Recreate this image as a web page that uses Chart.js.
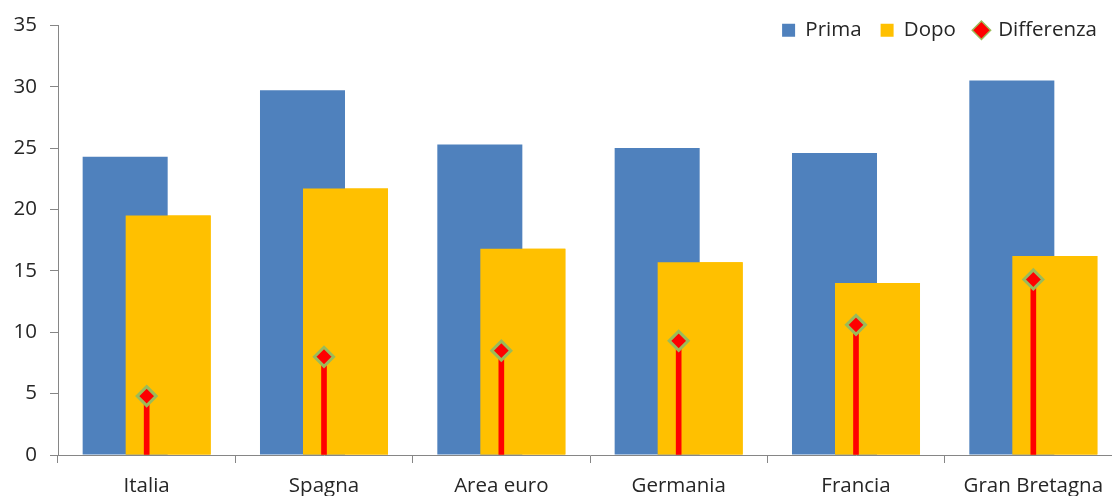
<!DOCTYPE html>
<html>
<head>
<meta charset="utf-8">
<title>Prima / Dopo / Differenza</title>
<script src="https://cdn.jsdelivr.net/npm/chart.js@4/dist/chart.umd.min.js"></script>
<style>
    html, body { margin: 0; padding: 0; background: #fff; overflow: hidden; }
    #wrap { position: relative; width: 1122px; height: 496px; }
</style>
</head>
<body>
<div id="wrap"><canvas id="_dm-barChart"></canvas></div>
<script>

// Chart data
// ----------------------------------------------
const categories  = [ "Italia", "Spagna", "Area euro", "Germania", "Francia", "Gran Bretagna" ];
const primaData   = [ 24.3, 29.7, 25.3, 25.0, 24.6, 30.5 ];
const dopoData    = [ 19.5, 21.7, 16.8, 15.7, 14.0, 16.2 ];
const diffData    = [ 4.8, 8.0, 8.5, 9.3, 10.6, 14.3 ];
const yTickValues = [ 0, 5, 10, 15, 20, 25, 30, 35 ];



// Colors
// ----------------------------------------------
const blueColor   = "#4F81BD";
const yellowColor = "#FFC000";
const redColor    = "#FF0000";
const greenColor  = "#9BBB59";
const axisColor   = "#868686";
const textColor   = "#262626";



// Excel style layering: Dopo sits over Prima, so paint it again after Prima.
// The legend floats over the plot, so it only reserves a thin strip.
// ----------------------------------------------
const barLayering = {
    id: "barLayering",
    beforeInit( chart ) {
        const origFit = chart.legend.fit;
        chart.legend.fit = function () {
            origFit.bind( chart.legend )();
            this.height = 24;
        };
    },
    afterLayout( chart ) {
        const lg = chart.legend;
        lg.top    = 1;
        lg.bottom = 64;
        lg.height = 63;
        lg.right  = 1116;
        lg.width  = lg.right - lg.left;
    },
    afterDatasetDraw( chart, args ) {
        if ( args.index === 0 ) chart.getDatasetMeta( 1 ).controller.draw();
    }
};



document.addEventListener( "DOMContentLoaded", () => {

    Chart.defaults.font.family = "'Open Sans'";
    Chart.defaults.font.size   = 20.5;
    Chart.defaults.color       = textColor;

    const barChart = new Chart(
        document.getElementById( "_dm-barChart" ), {
            type: "bar",
            data: {
                labels: categories,
                datasets: [
                    {
                        label: "Prima",
                        data: primaData,
                        backgroundColor: blueColor,
                        categoryPercentage: 0.485,
                        barPercentage: 1.977,
                        order: 2
                    },
                    {
                        label: "Dopo",
                        data: dopoData,
                        backgroundColor: yellowColor,
                        categoryPercentage: 0.485,
                        barPercentage: 1.977,
                        order: 3
                    },
                    {
                        // red stem under each diamond
                        label: "stem",
                        data: diffData,
                        backgroundColor: redColor,
                        grouped: false,
                        barThickness: 5,
                        order: 1
                    },
                    {
                        type: "line",
                        label: "Differenza",
                        data: diffData,
                        showLine: false,
                        pointStyle: "rectRot",
                        pointRadius: 9.5,
                        pointHoverRadius: 9.5,
                        pointBorderWidth: 3,
                        pointBackgroundColor: redColor,
                        pointBorderColor: greenColor,
                        backgroundColor: redColor,
                        borderColor: greenColor,
                        order: 0
                    }
                ]
            },
            options: {
                responsive: true,
                maintainAspectRatio: false,
                animation: false,
                layout: {
                    autoPadding: false,
                    padding: { top: 0, right: 0, bottom: 0, left: 0 }
                },
                plugins: {
                    tooltip: { enabled: false },
                    legend: {
                        display: true,
                        position: "top",
                        align: "end",
                        labels: {
                            usePointStyle: true,
                            boxWidth: 13,
                            boxHeight: 13,
                            padding: 19,
                            color: textColor,
                            font: { size: 20.5 },
                            filter: ( item ) => item.datasetIndex !== 2,
                            sort: ( a, b ) => a.datasetIndex - b.datasetIndex,
                            generateLabels: ( chart ) => {
                                const items = Chart.defaults.plugins.legend.labels.generateLabels( chart );
                                items.forEach( ( item ) => {
                                    if ( item.datasetIndex === 3 ) {
                                        item.pointStyle = "rectRot";
                                        item.lineWidth  = 1.5;
                                    } else {
                                        item.pointStyle = "rect";
                                        item.lineWidth  = 0;
                                    }
                                });
                                return items;
                            }
                        }
                    }
                },
                scales: {
                    x: {
                        offset: true,
                        afterFit: ( scale ) => { scale.height = 41; },
                        border: { display: true, color: axisColor, width: 1 },
                        grid: {
                            offset: true,
                            drawOnChartArea: false,
                            drawTicks: true,
                            tickLength: 8,
                            color: axisColor
                        },
                        ticks: {
                            padding: 11,
                            maxRotation: 0,
                            minRotation: 0,
                            autoSkip: false,
                            color: textColor
                        }
                    },
                    y: {
                        min: yTickValues[0],
                        max: yTickValues[ yTickValues.length - 1 ],
                        afterFit: ( scale ) => { scale.width = 58; },
                        afterBuildTicks: ( scale ) => {
                            scale.ticks = yTickValues.map( ( v ) => ({ value: v }) );
                        },
                        border: { display: true, color: axisColor, width: 1 },
                        grid: {
                            drawOnChartArea: false,
                            drawTicks: true,
                            tickLength: 8,
                            color: axisColor
                        },
                        ticks: {
                            padding: 13,
                            color: textColor
                        }
                    }
                }
            },
            plugins: [ barLayering ]
        }
    );

});

</script>
</body>
</html>
